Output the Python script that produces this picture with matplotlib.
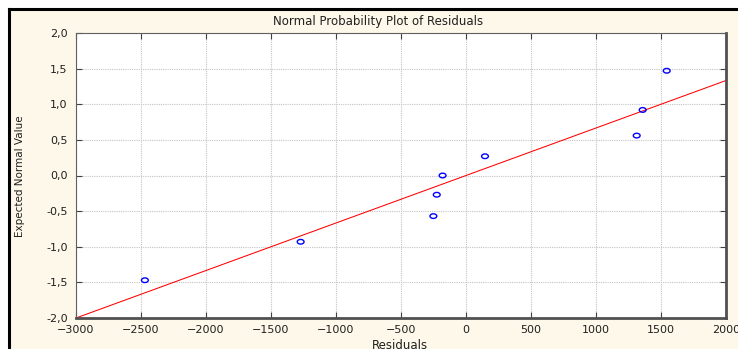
import numpy as np
import matplotlib
matplotlib.use("Agg")
import matplotlib.pyplot as plt
from matplotlib.patches import Rectangle
from matplotlib.lines import Line2D
from matplotlib.path import Path
from matplotlib.ticker import FuncFormatter

# residuals and their expected normal values
residuals = [-2470, -1272, -251, -225, -180, 146, 1313, 1359, 1544]
expected_normal = [-1.47, -0.93, -0.57, -0.27, 0.0, 0.27, 0.56, 0.92, 1.47]

# fitted reference line y = slope * x + intercept
fit_slope = 1.0 / 1500.0
fit_intercept = 0.0

x_ticks = [-3000, -2500, -2000, -1500, -1000, -500, 0, 500, 1000, 1500, 2000]
y_ticks = [-2.0, -1.5, -1.0, -0.5, 0.0, 0.5, 1.0, 1.5, 2.0]

W, H = 738, 349
cream = "#fdf8e9"

fig = plt.figure(figsize=(W / 100, H / 100), dpi=100, facecolor=cream)

# white strips above and left of the black frame
fig.patches.append(Rectangle((0, 1 - 8 / H), 1, 8 / H, transform=fig.transFigure,
                             facecolor="white", edgecolor="none", zorder=0))
fig.patches.append(Rectangle((0, 0), 8 / W, 1, transform=fig.transFigure,
                             facecolor="white", edgecolor="none", zorder=0))
fig.lines.append(Line2D([8.5 / W, 1], [1 - 8.5 / H, 1 - 8.5 / H], transform=fig.transFigure,
                        color="black", lw=2.2, zorder=1))
fig.lines.append(Line2D([8.5 / W, 8.5 / W], [0, 1 - 8.5 / H], transform=fig.transFigure,
                        color="black", lw=2.2, zorder=1))

ax = fig.add_axes([76 / W, (H - 318) / H, 650 / W, 285 / H])
ax.set_facecolor("white")

# slightly squashed circle, like the screenshot
circ = Path.unit_circle()
oval = Path(circ.vertices * np.array([1.0, 0.68]), circ.codes)
ax.scatter(residuals, expected_normal, s=24, marker=oval, facecolors="none",
           edgecolors="#0000ff", linewidths=1.0, zorder=3)

xl = np.array([-3000, 2000])
ax.plot(xl, fit_slope * xl + fit_intercept, color="#ff0000", lw=0.75, zorder=2)

ax.set_xlim(-3000, 2000)
ax.set_ylim(-2.0, 2.0)
ax.set_xticks(x_ticks)
ax.set_yticks(y_ticks)
ax.yaxis.set_major_formatter(FuncFormatter(lambda v, p: ("%.1f" % v).replace(".", ",")))
ax.grid(True, color="#c4c4c4", linestyle=(0, (1, 1)), linewidth=0.8)
ax.set_axisbelow(True)

ax.tick_params(direction="in", length=4, width=0.8, color="#404040",
               labelsize=8, labelcolor="#202020", top=True, right=True)
ax.tick_params(axis="y", pad=6)
ax.tick_params(axis="x", pad=5)

for side in ["left", "top"]:
    ax.spines[side].set_color("#606060")
    ax.spines[side].set_linewidth(0.8)
for side in ["right", "bottom"]:
    ax.spines[side].set_color("#505050")
    ax.spines[side].set_linewidth(2.0)

fig.text(378 / W, 1 - 21 / H, "Normal Probability Plot of Residuals", ha="center",
         va="center", fontsize=8.5, color="#202020")
fig.text(20 / W, 1 - 176 / H, "Expected Normal Value", rotation=90, ha="center",
         va="center", fontsize=7.5, color="#202020",
         family=["Liberation Sans Narrow", "DejaVu Sans Condensed", "DejaVu Sans"])
fig.text(400 / W, 1 - 339 / H, "Residuals", ha="center", va="top", fontsize=8.5,
         color="#202020")

fig.savefig("out.png", dpi=100, facecolor=fig.get_facecolor())
